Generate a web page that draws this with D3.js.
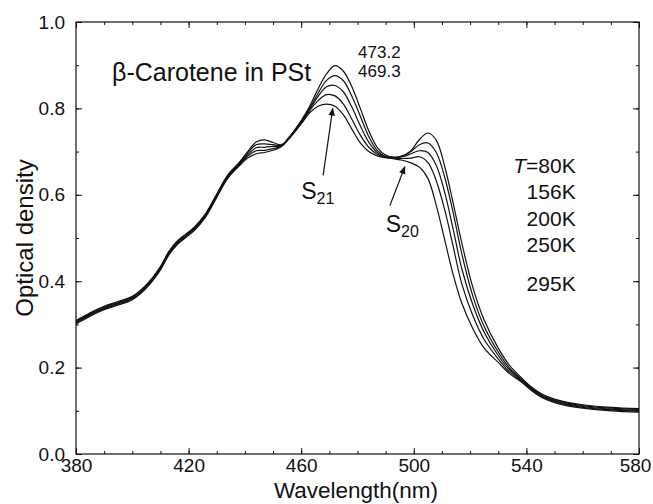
<!DOCTYPE html>
<html>
<head>
<meta charset="utf-8">
<script src="https://cdn.jsdelivr.net/npm/d3@7"></script>
<style>
  body { margin: 0; background: #fff; }
  svg text { font-family: "Liberation Sans", Arial, Helvetica, sans-serif; fill: #111; }
</style>
</head>
<body>
<div id="chart"></div>
<script>
// wavelength grid (nm)
var wavelength = [380, 385, 390, 395, 400, 405, 410, 413, 416, 419, 422, 426, 430, 434, 438,
    441, 444, 447, 450, 453, 456, 460, 463, 466, 469, 472, 475, 478, 481, 484, 487, 490,
    493, 496, 499, 502, 505, 508, 511, 514, 517, 521, 525, 530, 534, 538,
    542, 546, 550, 555, 560, 570, 580];

// optical density at each temperature
var od80K = [0.309, 0.327, 0.342, 0.353, 0.365, 0.392, 0.434, 0.469, 0.493, 0.509, 0.525, 0.556, 0.602, 0.647, 0.675,
    0.700, 0.722, 0.727, 0.721, 0.716, 0.736, 0.772, 0.805, 0.845, 0.880, 0.899, 0.886, 0.850, 0.800, 0.748, 0.710, 0.692,
    0.687, 0.690, 0.702, 0.728, 0.743, 0.726, 0.665, 0.580, 0.490, 0.385, 0.310, 0.245, 0.205, 0.178,
    0.154, 0.137, 0.127, 0.119, 0.114, 0.108, 0.105];
var od156K = [0.307, 0.325, 0.340, 0.351, 0.363, 0.390, 0.432, 0.467, 0.491, 0.507, 0.523, 0.554, 0.600, 0.645, 0.673,
    0.697, 0.716, 0.718, 0.716, 0.715, 0.735, 0.770, 0.800, 0.835, 0.865, 0.876, 0.864, 0.828, 0.782, 0.735, 0.703, 0.689,
    0.686, 0.690, 0.700, 0.716, 0.720, 0.698, 0.640, 0.558, 0.465, 0.365, 0.295, 0.236, 0.199, 0.175,
    0.152, 0.135, 0.125, 0.117, 0.112, 0.106, 0.103];
var od200K = [0.305, 0.323, 0.338, 0.349, 0.361, 0.388, 0.430, 0.465, 0.489, 0.505, 0.521, 0.552, 0.598, 0.643, 0.671,
    0.693, 0.709, 0.710, 0.712, 0.714, 0.734, 0.768, 0.798, 0.828, 0.850, 0.853, 0.838, 0.803, 0.760, 0.722, 0.698, 0.688,
    0.686, 0.688, 0.695, 0.702, 0.698, 0.668, 0.605, 0.520, 0.430, 0.345, 0.282, 0.228, 0.195, 0.173,
    0.150, 0.133, 0.123, 0.115, 0.110, 0.104, 0.101];
var od250K = [0.303, 0.321, 0.336, 0.347, 0.359, 0.386, 0.428, 0.463, 0.487, 0.503, 0.519, 0.550, 0.596, 0.641, 0.669,
    0.690, 0.702, 0.703, 0.707, 0.713, 0.733, 0.766, 0.795, 0.818, 0.832, 0.829, 0.810, 0.775, 0.738, 0.710, 0.694, 0.687,
    0.685, 0.684, 0.685, 0.688, 0.675, 0.632, 0.565, 0.480, 0.395, 0.320, 0.265, 0.220, 0.190, 0.170,
    0.148, 0.131, 0.121, 0.113, 0.108, 0.102, 0.099];
var od295K = [0.301, 0.319, 0.334, 0.345, 0.357, 0.384, 0.426, 0.461, 0.485, 0.501, 0.517, 0.548, 0.594, 0.639, 0.667,
    0.685, 0.695, 0.698, 0.703, 0.712, 0.732, 0.764, 0.790, 0.805, 0.810, 0.805, 0.785, 0.752, 0.720, 0.700, 0.690, 0.686,
    0.683, 0.680, 0.674, 0.664, 0.638, 0.575, 0.495, 0.415, 0.350, 0.290, 0.245, 0.212, 0.186, 0.168,
    0.146, 0.129, 0.119, 0.111, 0.106, 0.100, 0.097];

var series = [od80K, od156K, od200K, od250K, od295K];
var tempLabels = ["80K", "156K", "200K", "250K", "295K"];
var peakLabels = ["473.2", "469.3"];
var xMajorTicks = [380, 420, 460, 500, 540, 580];
var yMajorTicks = [0.0, 0.2, 0.4, 0.6, 0.8, 1.0];

var W = 653, H = 504;
var margin = { top: 22, right: 14, bottom: 50, left: 76 },
    width = W - margin.left - margin.right,
    height = H - margin.top - margin.bottom;

var svg = d3.select("#chart").append("svg")
    .attr("width", W)
    .attr("height", H);

svg.append("defs").append("marker")
    .attr("id", "head")
    .attr("viewBox", "0 0 10 10")
    .attr("refX", 9).attr("refY", 5)
    .attr("markerWidth", 10).attr("markerHeight", 8)
    .attr("markerUnits", "userSpaceOnUse")
    .attr("orient", "auto")
    .append("path")
    .attr("d", "M0,1 L10,5 L0,9 z")
    .attr("fill", "#111");

var g = svg.append("g")
    .attr("transform", "translate(" + margin.left + "," + margin.top + ")");

var x = d3.scaleLinear().domain([380, 580]).range([0, width]);
var y = d3.scaleLinear().domain([0, 1]).range([height, 0]);

// frame
g.append("rect")
    .attr("width", width).attr("height", height)
    .attr("fill", "none").attr("stroke", "#111").attr("stroke-width", 1.2);

function styleAxis(sel) {
    sel.select(".domain").remove();
    sel.selectAll("line").attr("stroke", "#111").attr("stroke-width", 1);
    sel.selectAll("text").attr("font-size", 19).attr("fill", "#111")
        .style("font-family", "'Liberation Sans', Arial, sans-serif");
}

var xMinor = d3.range(380, 581, 10), yMinor = d3.range(0, 1.01, 0.1);

// minor ticks on all four sides
g.append("g").attr("transform", "translate(0," + height + ")")
    .call(d3.axisBottom(x).tickValues(xMinor).tickSize(-3).tickFormat("")).call(styleAxis);
g.append("g")
    .call(d3.axisTop(x).tickValues(xMinor).tickSize(-3).tickFormat("")).call(styleAxis);
g.append("g")
    .call(d3.axisLeft(y).tickValues(yMinor).tickSize(-3).tickFormat("")).call(styleAxis);
g.append("g").attr("transform", "translate(" + width + ",0)")
    .call(d3.axisRight(y).tickValues(yMinor).tickSize(-3).tickFormat("")).call(styleAxis);

// major ticks
var xAxisG = g.append("g").attr("transform", "translate(0," + height + ")")
    .call(d3.axisBottom(x).tickValues(xMajorTicks).tickSize(-6).tickPadding(5).tickFormat(d3.format("d")))
    .call(styleAxis);
// last label sits a little left so it stays inside the page
xAxisG.selectAll(".tick text").filter(function (d) { return d === 580; }).attr("dx", -4);
g.append("g")
    .call(d3.axisTop(x).tickValues(xMajorTicks).tickSize(-6).tickFormat("")).call(styleAxis);
g.append("g")
    .call(d3.axisLeft(y).tickValues(yMajorTicks).tickSize(-6).tickPadding(11).tickFormat(d3.format(".1f")))
    .call(styleAxis);
g.append("g").attr("transform", "translate(" + width + ",0)")
    .call(d3.axisRight(y).tickValues(yMajorTicks).tickSize(-6).tickFormat("")).call(styleAxis);

// spectra
var line = d3.line()
    .x(function (d, i) { return x(wavelength[i]); })
    .y(function (d) { return y(d); })
    .curve(d3.curveCatmullRom.alpha(0.5));

g.selectAll(".spec")
    .data(series)
    .enter()
    .append("path")
    .attr("class", "spec")
    .attr("d", line)
    .attr("fill", "none")
    .attr("stroke", "#111")
    .attr("stroke-width", 1.2);

// axis titles
svg.append("text")
    .attr("x", 356).attr("y", 498)
    .attr("text-anchor", "middle").attr("font-size", 22.5)
    .text("Wavelength(nm)");
svg.append("text")
    .attr("transform", "translate(33," + (margin.top + height / 2) + ")rotate(-90)")
    .attr("text-anchor", "middle").attr("font-size", 24)
    .text("Optical density");

// annotations
g.append("text")
    .attr("x", x(392.8)).attr("y", 81 - margin.top)
    .attr("font-size", 25)
    .text("\u03b2-Carotene in PSt");

g.selectAll(".peak")
    .data(peakLabels)
    .enter()
    .append("text")
    .attr("x", x(480.2))
    .attr("y", function (d, i) { return 58 - margin.top + i * 19; })
    .attr("font-size", 17)
    .text(function (d) { return d; });

var temps = g.selectAll(".temp")
    .data(tempLabels)
    .enter()
    .append("text")
    .attr("text-anchor", "end")
    .attr("x", x(557.5))
    .attr("y", function (d, i) { return y(0.65) + [0, 26, 53, 79, 118][i]; })
    .attr("font-size", 21);
temps.filter(function (d, i) { return i === 0; })
    .append("tspan").attr("font-style", "italic").text("T");
temps.filter(function (d, i) { return i === 0; })
    .append("tspan").text("=");
temps.append("tspan").text(function (d) { return d; });

// S21 and S20 labels with arrows
var s21 = g.append("text").attr("x", x(460)).attr("y", y(0.59)).attr("font-size", 23);
s21.append("tspan").text("S");
s21.append("tspan").attr("font-size", 16).attr("dy", 5).text("21");

var s20 = g.append("text").attr("x", x(490)).attr("y", y(0.515)).attr("font-size", 23);
s20.append("tspan").text("S");
s20.append("tspan").attr("font-size", 16).attr("dy", 5).text("20");

g.append("line")
    .attr("x1", x(467.8)).attr("y1", y(0.645))
    .attr("x2", x(471.2)).attr("y2", y(0.80))
    .attr("stroke", "#111").attr("stroke-width", 1.2)
    .attr("marker-end", "url(#head)");
g.append("line")
    .attr("x1", x(491.5)).attr("y1", y(0.575))
    .attr("x2", x(496.8)).attr("y2", y(0.665))
    .attr("stroke", "#111").attr("stroke-width", 1.2)
    .attr("marker-end", "url(#head)");
</script>
</body>
</html>
